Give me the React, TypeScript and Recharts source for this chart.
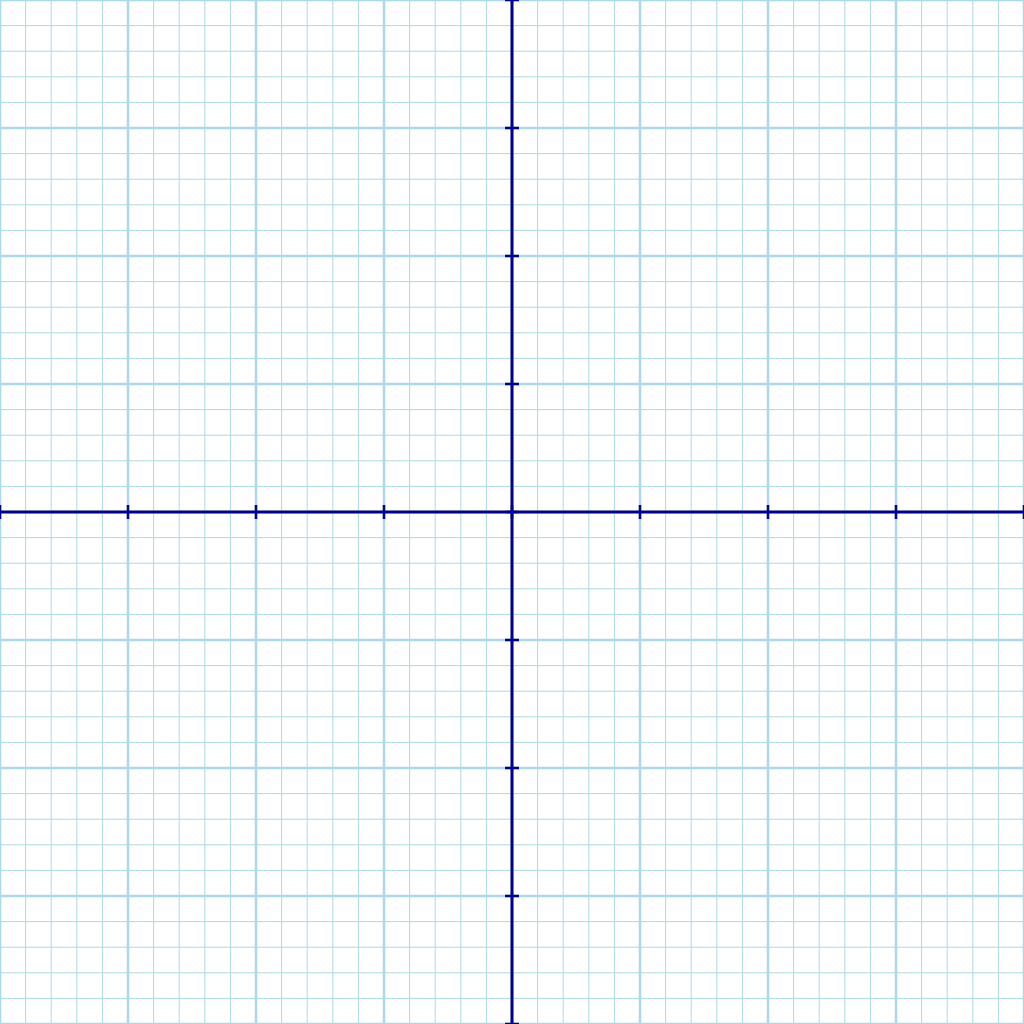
import { ComposedChart, XAxis, YAxis, ReferenceLine, ReferenceDot } from 'recharts'

// unit positions of the heavy grid lines and axis ticks
const majorUnits = [-4, -3, -2, -1, 0, 1, 2, 3, 4]

// fifth-of-a-unit positions of the fine grid lines
const minorUnits = [
  -3.8, -3.6, -3.4, -3.2,
  -2.8, -2.6, -2.4, -2.2,
  -1.8, -1.6, -1.4, -1.2,
  -0.8, -0.6, -0.4, -0.2,
  0.2, 0.4, 0.6, 0.8,
  1.2, 1.4, 1.6, 1.8,
  2.2, 2.4, 2.6, 2.8,
  3.2, 3.4, 3.6, 3.8,
]

const GRID = '#add8e6'
const AXIS = '#00008b'

function HTick(props: any) {
  const { cx, cy } = props
  return <line x1={cx} y1={cy - 7} x2={cx} y2={cy + 7} stroke={AXIS} strokeWidth={2.5} />
}

function VTick(props: any) {
  const { cx, cy } = props
  return <line x1={cx - 7} y1={cy} x2={cx + 7} y2={cy} stroke={AXIS} strokeWidth={2.5} />
}

export default function App() {
  return (
    <div style={{ position: 'absolute', left: 0, top: 0, width: 1024, height: 1024, background: '#fff' }}>
      <ComposedChart width={1024} height={1024} data={[]} margin={{ top: 0, right: 0, bottom: 0, left: 0 }}>
        <XAxis type="number" dataKey="x" domain={[-4, 4]} hide allowDataOverflow />
        <YAxis type="number" dataKey="y" domain={[-4, 4]} hide allowDataOverflow />

        {minorUnits.map((v) => (
          <ReferenceLine key={'mx' + v} x={v} stroke={GRID} strokeWidth={1} ifOverflow="visible" />
        ))}
        {minorUnits.map((v) => (
          <ReferenceLine key={'my' + v} y={v} stroke={GRID} strokeWidth={1} ifOverflow="visible" />
        ))}
        {majorUnits.map((v) => (
          <ReferenceLine key={'Mx' + v} x={v} stroke={GRID} strokeWidth={2.5} ifOverflow="visible" />
        ))}
        {majorUnits.map((v) => (
          <ReferenceLine key={'My' + v} y={v} stroke={GRID} strokeWidth={2.5} ifOverflow="visible" />
        ))}

        <ReferenceLine x={0} stroke={AXIS} strokeWidth={3} ifOverflow="visible" />
        <ReferenceLine y={0} stroke={AXIS} strokeWidth={3} ifOverflow="visible" />

        {majorUnits.map((v) => (
          <ReferenceDot key={'tx' + v} x={v} y={0} ifOverflow="visible" shape={<HTick />} />
        ))}
        {majorUnits.map((v) => (
          <ReferenceDot key={'ty' + v} x={0} y={v} ifOverflow="visible" shape={<VTick />} />
        ))}
      </ComposedChart>
    </div>
  )
}
